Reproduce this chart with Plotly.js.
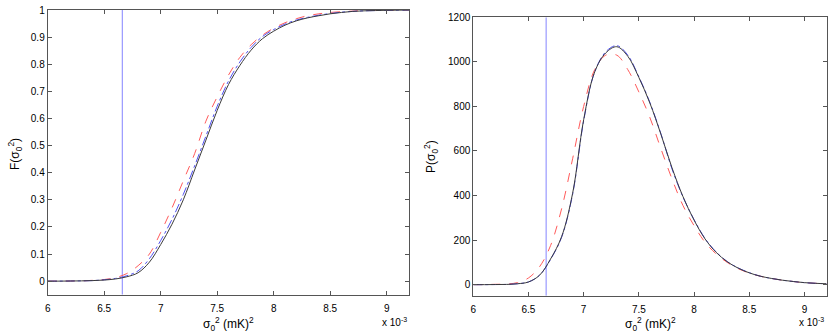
<!DOCTYPE html>
<html lang="en">
<head>
    <meta charset="UTF-8">
    <title>sigma0 distributions</title>
    <script src="https://cdn.plot.ly/plotly-3.0.1.min.js"></script>
    <style>
        body { margin: 0; background: #fff; }
        #plot { width: 830px; height: 334px; }
    </style>
</head>
<body>
<div id="plot"></div>
<script>

// sigma_0^2 grid, in units of 1e-3 (mK)^2
let sigma = [6.0, 6.1, 6.2, 6.3, 6.4, 6.5, 6.6, 6.7, 6.8, 6.9, 7.0, 7.1, 7.2, 7.3, 7.4, 7.5, 7.6,
    7.7, 7.8, 7.9, 8.0, 8.1, 8.2, 8.3, 8.4, 8.5, 8.6, 8.7, 8.8, 8.9, 9.0, 9.1, 9.2];

// cumulative F(sigma0^2)
let cdfBlack = [0, 0, 0.0005, 0.001, 0.002, 0.004, 0.008, 0.016, 0.031, 0.07, 0.135, 0.21, 0.30, 0.41, 0.52, 0.63, 0.725,
    0.795, 0.852, 0.894, 0.922, 0.944, 0.96, 0.971, 0.979, 0.986, 0.991, 0.995, 0.997, 0.998, 0.999, 0.9995, 1.0];
let cdfBlue = [0, 0, 0.0005, 0.001, 0.002, 0.005, 0.01, 0.02, 0.038, 0.083, 0.15, 0.228, 0.32, 0.425, 0.535, 0.645, 0.738,
    0.808, 0.862, 0.902, 0.928, 0.948, 0.963, 0.973, 0.981, 0.987, 0.992, 0.995, 0.997, 0.998, 0.999, 0.9995, 1.0];
let cdfRed = [0, 0, 0.0005, 0.001, 0.003, 0.006, 0.013, 0.028, 0.057, 0.10, 0.18, 0.27, 0.37, 0.47, 0.59, 0.68, 0.76,
    0.825, 0.872, 0.907, 0.933, 0.953, 0.968, 0.979, 0.986, 0.991, 0.994, 0.996, 0.998, 0.999, 0.9995, 0.9998, 1.0];

// density P(sigma0^2)
let pdfBlack = [0, 0, 0.5, 1, 4, 12, 42, 115, 215, 410, 740, 955, 1040, 1068, 1025, 930, 815,
    675, 525, 395, 290, 205, 145, 103, 74, 53, 38, 28, 20, 14, 9, 6, 4];
let pdfBlue = [0, 0, 0.5, 1, 4, 12, 42, 113, 212, 405, 735, 955, 1045, 1073, 1030, 933, 818,
    677, 520, 393, 292, 207, 147, 104, 75, 54, 38, 28, 20, 14, 9, 6, 4];
let pdfRed = [0, 0.5, 1.5, 3, 9, 30, 80, 175, 340, 565, 800, 965, 1030, 1030, 965, 865, 750,
    610, 475, 355, 265, 190, 138, 100, 72, 52, 38, 28, 20, 14, 9, 6, 4];

// vertical marker
let markX = [6.66, 6.66];
let markYLeft = [-0.05, 1];
let markYRight = [-50, 1200];

const FONT = 'Liberation Sans, Arial, sans-serif';

function curve(x, y, color, dash, xa, ya) {
    return {
        x: x, y: y, xaxis: xa, yaxis: ya,
        mode: 'lines', type: 'scatter',
        line: { color: color, width: 1, dash: dash, shape: 'spline', smoothing: 1 },
        hoverinfo: 'skip'
    };
}

let data = [
    curve(markX, markYLeft, '#8484ff', 'solid', 'x', 'y'),
    curve(sigma, cdfRed, '#ff5a5a', 'dash', 'x', 'y'),
    curve(sigma, cdfBlue, '#5050f0', 'dashdot', 'x', 'y'),
    curve(sigma, cdfBlack, '#3a3a3a', 'solid', 'x', 'y'),
    curve(markX, markYRight, '#8484ff', 'solid', 'x2', 'y2'),
    curve(sigma, pdfRed, '#ff5a5a', 'dash', 'x2', 'y2'),
    curve(sigma, pdfBlue, '#5050f0', 'dashdot', 'x2', 'y2'),
    curve(sigma, pdfBlack, '#3a3a3a', 'solid', 'x2', 'y2')
];

function axis(extra) {
    return Object.assign({
        showgrid: false, zeroline: false,
        showline: true, linecolor: '#555', linewidth: 1, mirror: 'ticks',
        ticks: 'inside', ticklen: 4, tickcolor: '#555', tickwidth: 1,
        tickfont: { family: FONT, size: 10, color: '#000' },
        fixedrange: true
    }, extra);
}

let xTitle = 'σ<sub>0</sub><sup>2</sup> (mK)<sup>2</sup>';
let annFont = { family: FONT, size: 12, color: '#000' };
let expFont = { family: FONT, size: 10, color: '#000' };

function note(text, px, py, extra) {
    return Object.assign({
        text: text, xref: 'paper', yref: 'paper', x: px / 830, y: 1 - py / 334,
        xanchor: 'center', yanchor: 'middle', showarrow: false, font: annFont
    }, extra);
}

let layout = {
    width: 830, height: 334,
    margin: { l: 0, r: 0, t: 0, b: 0 },
    paper_bgcolor: '#fff', plot_bgcolor: '#fff',
    showlegend: false,
    xaxis: axis({ domain: [0.0575, 0.4931], range: [6, 9.2], tick0: 6, dtick: 0.5, anchor: 'y', ticklabelstandoff: 4 }),
    yaxis: axis({ domain: [0.1177, 0.970], range: [-0.05, 1], tick0: 0, dtick: 0.1, anchor: 'x' }),
    xaxis2: axis({ domain: [0.5702, 0.9958], range: [6, 9.2], tick0: 6, dtick: 0.5, anchor: 'y2', ticklabelstandoff: 4 }),
    yaxis2: axis({ domain: [0.1144, 0.9482], range: [-50, 1200], tick0: 0, dtick: 200, anchor: 'x2' }),
    annotations: [
        note('F(σ<sub>0</sub><sup>2</sup>)', 15, 154, { textangle: -90 }),
        note('P(σ<sub>0</sub><sup>2</sup>)', 431, 157, { textangle: -90 }),
        note(xTitle, 228, 324),
        note(xTitle, 650, 324),
        note('x 10<sup>-3</sup>', 409, 322, { xanchor: 'right', font: expFont }),
        note('x 10<sup>-3</sup>', 826, 322, { xanchor: 'right', font: expFont })
    ]
};

Plotly.newPlot('plot', data, layout, { displayModeBar: false, staticPlot: true });

</script>
</body>
</html>
